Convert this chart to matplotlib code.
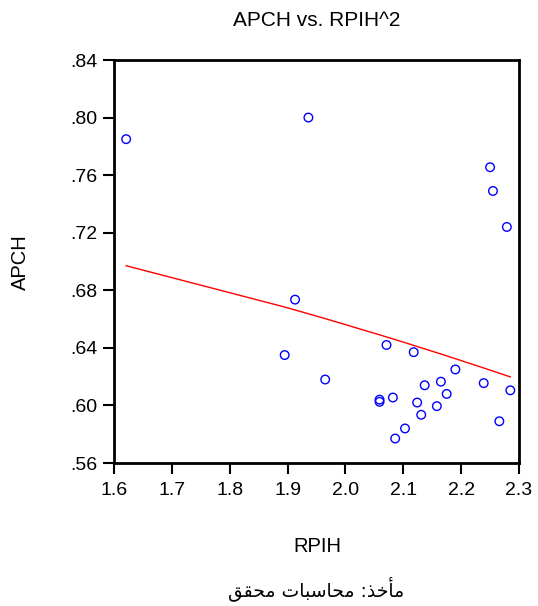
import numpy as np
import matplotlib
matplotlib.use("Agg")
import matplotlib.pyplot as plt
from matplotlib.ticker import FuncFormatter

# Data
rpih = [1.621, 1.936, 2.250, 2.255, 2.279, 1.913, 1.895, 1.965,
        2.071, 2.118, 2.190, 2.239, 2.285, 2.165, 2.137, 2.175,
        2.082, 2.059, 2.059, 2.124, 2.158, 2.131, 2.103, 2.086, 2.266]
apch = [0.785, 0.800, 0.7655, 0.749, 0.724, 0.6735, 0.635, 0.618,
        0.642, 0.637, 0.625, 0.6155, 0.6105, 0.6165, 0.614, 0.608,
        0.6055, 0.604, 0.6025, 0.602, 0.5995, 0.5935, 0.584, 0.577, 0.589]

x_ticks = [1.6, 1.7, 1.8, 1.9, 2.0, 2.1, 2.2, 2.3]
y_ticks = [0.56, 0.60, 0.64, 0.68, 0.72, 0.76, 0.80, 0.84]

title = "APCH vs. RPIH^2"
xlabel = "RPIH"
ylabel = "APCH"
# "مأخذ: محاسبات محقق" written with Arabic presentation forms in visual order
caption = "\uFED6\uFED8\uFEA4\uFEE3 \uFE95\uFE8E\uFE92\uFEB3\uFE8E\uFEA4\uFEE3 :\uFEAC\uFEA7\uFE84\uFEE3"

plt.rcParams['font.family'] = ['Liberation Sans', 'DejaVu Sans']

fig = plt.figure(figsize=(5.38, 6.06), dpi=100)
ax = fig.add_axes([114/538, 1-463/606, (519-114)/538, (463-60)/606])

x = np.array(rpih)
y = np.array(apch)

# regression of APCH on RPIH^2
b, a = np.polyfit(x**2, y, 1)
xs = np.sort(x)
ax.plot(xs, a + b*xs**2, color='#ff0000', lw=1.0, zorder=2)

ax.scatter(x, y, s=38, facecolors='none', edgecolors='#0000ff', linewidths=1.0, zorder=3)

ax.set_xlim(1.6, 2.3)
ax.set_ylim(0.56, 0.84)
ax.set_xticks(x_ticks)
ax.set_yticks(y_ticks)
ax.xaxis.set_major_formatter(FuncFormatter(lambda v, p: f"{v:.1f}"))
ax.yaxis.set_major_formatter(FuncFormatter(lambda v, p: f"{v:.2f}".lstrip('0')))
ax.tick_params(axis='both', direction='out', length=8, width=1.5, labelsize=14, color='black')
ax.tick_params(axis='x', pad=6)
ax.tick_params(axis='y', pad=4)

for s in ax.spines.values():
    s.set_linewidth(2.0)
    s.set_color('black')

fig.text(317/538, 1-20/606, title, ha='center', va='center', fontsize=15)
fig.text(317/538, 1-547/606, xlabel, ha='center', va='center', fontsize=14.5)
fig.text(20/538, 1-262/606, ylabel, ha='center', va='center', fontsize=14.5, rotation=90)
fig.text(316/538, 1-589/606, caption, ha='center', va='center', fontsize=13.5, family='DejaVu Sans')

fig.savefig("out.png", dpi=100)
